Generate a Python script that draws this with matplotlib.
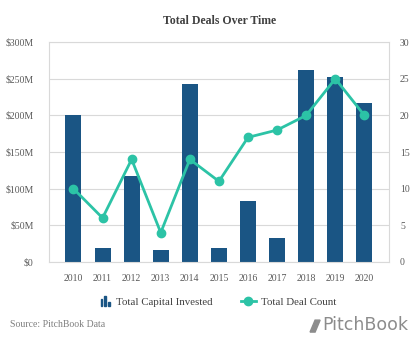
import matplotlib.pyplot as plt
from matplotlib.patches import Rectangle, Polygon
from matplotlib.lines import Line2D
from matplotlib.legend_handler import HandlerBase
from matplotlib.ticker import FuncFormatter, MultipleLocator

years = ['2010', '2011', '2012', '2013', '2014', '2015', '2016', '2017', '2018', '2019', '2020']
capital_m = [201, 19, 117, 17, 243, 19, 83, 33, 262, 253, 217]
deal_count = [10, 6, 14, 4, 14, 11, 17, 18, 20, 25, 20]

bar_color = '#1a5584'
line_color = '#2cc3a6'
text_color = '#595959'
grid_color = '#d9d9d9'

plt.rcParams['font.family'] = ['Liberation Serif', 'DejaVu Serif']

fig = plt.figure(figsize=(4.19, 3.42), dpi=100)
ax = fig.add_axes([0.117, 0.234, 0.811, 0.643])

x = list(range(len(years)))
ax.bar(x, capital_m, width=0.55, color=bar_color, zorder=2)
ax.set_ylim(0, 300)
ax.set_xlim(-0.84, 10.84)
ax.yaxis.set_major_locator(MultipleLocator(50))
ax.yaxis.set_major_formatter(FuncFormatter(lambda v, p: f'${int(v)}M' if v else '$0'))
ax.set_xticks(x)
ax.set_xticklabels(years)
ax.grid(axis='y', color=grid_color, linewidth=0.8, zorder=0)
ax.tick_params(length=0, labelsize=7, colors=text_color)
ax.tick_params(axis='y', pad=11)
ax.tick_params(axis='x', pad=9)
for s in ax.spines.values():
    s.set_color(grid_color)
    s.set_linewidth(0.8)

ax2 = ax.twinx()
ax2.plot(x, deal_count, color=line_color, linewidth=2, marker='o', markersize=6, zorder=3)
ax2.set_ylim(0, 30)
ax2.yaxis.set_major_locator(MultipleLocator(5))
ax2.tick_params(length=0, labelsize=7, colors=text_color, pad=8)
for s in ax2.spines.values():
    s.set_visible(False)

fig.text(0.523, 0.94, 'Total Deals Over Time', ha='center', va='center',
         fontsize=8.5, fontweight='bold', color='#404040')


# legend icon: three small bars
class BarIconHandler(HandlerBase):
    def create_artists(self, legend, orig, xd, yd, w, h, fontsize, trans):
        bw = w * 0.12
        heights = [0.7, 1.15, 0.4]
        arts = []
        for i, hh in enumerate(heights):
            r = Rectangle((xd + w * 0.3 + i * bw * 2.1, yd - 1), bw, h * hh + 1,
                          color=bar_color, transform=trans)
            arts.append(r)
        return arts


bar_handle = Rectangle((0, 0), 1, 1, color=bar_color)
line_handle = Line2D([0], [0], color=line_color, linewidth=2, marker='o', markersize=6)
fig.legend([bar_handle, line_handle], ['Total Capital Invested', 'Total Deal Count'],
           handler_map={bar_handle: BarIconHandler()},
           loc='center', bbox_to_anchor=(0.516, 0.117), ncol=2, frameon=False,
           fontsize=7.8, labelcolor='#404040', handlelength=1.4, columnspacing=2.6,
           handletextpad=0.45)

fig.text(0.024, 0.052, 'Source: PitchBook Data', ha='left', va='center',
         fontsize=7, color='#7f7f7f')

logo = Polygon([[0.740, 0.029], [0.752, 0.064], [0.764, 0.064], [0.752, 0.029]],
               closed=True, color='#8c8c8c', transform=fig.transFigure)
fig.patches.append(logo)
fig.text(0.768, 0.05, 'PitchBook', ha='left', va='center', fontsize=12.5,
         color='#8c8c8c', family='DejaVu Sans')

fig.savefig('out.png', dpi=100)
